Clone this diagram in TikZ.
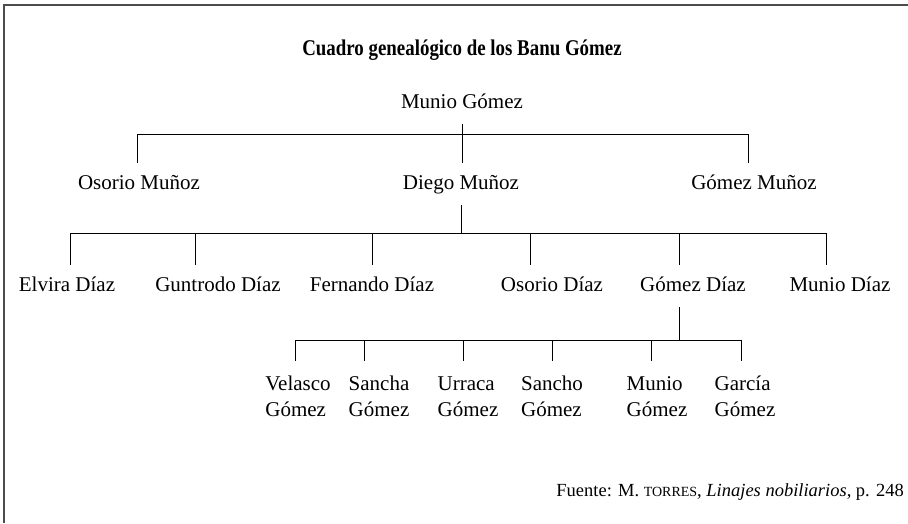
\documentclass[tikz,border=0pt]{standalone}
\usepackage{fontspec}
\setmainfont{Liberation Serif}
\newfontfamily\titlefont[FakeStretch=0.84]{Liberation Serif}
\usetikzlibrary{positioning}

\begin{document}
\begin{tikzpicture}[
        x=1pt, y=-1pt,
        kin/.style={line width=0.8pt},
        person/.style={anchor=base, inner sep=0pt, outer ysep=11pt,
          text height=15pt, text depth=5pt, font=\fontsize{21}{26}\selectfont},
        grandchild/.style={anchor=north, inner sep=0pt, outer ysep=11pt,
          align=left, font=\fontsize{21}{26}\selectfont},
        ]
        \useasboundingbox (0,0) rectangle (908,523);
        \draw[line width=1.6pt, black!70] (4,523) -- (4,5) -- (908,5);

        \node[anchor=base, font=\titlefont\bfseries\fontsize{22.5}{26}\selectfont] (title) at (462,55)
          {Cuadro genealógico de los Banu Gómez};

        % first and second generation
        \node[person] (munio)   at (462,108) {Munio Gómez};
        \node[person] (osorioM) at (139,189) {Osorio Muñoz};
        \node[person] (diego)   at (461,189) {Diego Muñoz};
        \node[person] (gomezM)  at (754,189) {Gómez Muñoz};

        \foreach \who/\x in {osorioM/137, diego/462, gomezM/748}
          \draw[kin] (\x,134) coordinate (\who-up) -- (\who-up |- \who.north);
        \draw[kin] (osorioM-up) -- (gomezM-up);
        \draw[kin] (munio.south) -- (diego-up);

        % children of Diego Munoz
        \node[person] (elvira)   at (67,291)  {Elvira Díaz};
        \node[person] (guntrodo) at (218,291) {Guntrodo Díaz};
        \node[person] (fernando) at (372,291) {Fernando Díaz};
        \node[person] (osorioD)  at (552,291) {Osorio Díaz};
        \node[person] (gomezD)   at (693,291) {Gómez Díaz};
        \node[person] (munioD)   at (840,291) {Munio Díaz};

        \foreach \who/\x in {elvira/70, guntrodo/195, fernando/372, osorioD/530, gomezD/679, munioD/826}
          \draw[kin] (\x,233) coordinate (\who-up) -- (\who-up |- \who.north);
        \draw[kin] (elvira-up) -- (munioD-up);
        \draw[kin] (diego.south) -- (diego.south |- elvira-up);

        % children of Gomez Diaz
        \node[grandchild] (velasco) at (298,361) {\strut Velasco\\Gómez};
        \node[grandchild] (sancha)  at (379,361) {\strut Sancha\\Gómez};
        \node[grandchild] (urraca)  at (468,361) {\strut Urraca\\Gómez};
        \node[grandchild] (sancho)  at (552,361) {\strut Sancho\\Gómez};
        \node[grandchild] (munioG)  at (657,361) {\strut Munio\\Gómez};
        \node[grandchild] (garcia)  at (745,361) {\strut García\\Gómez};

        \foreach \who/\x in {velasco/295, sancha/364, urraca/463, sancho/552, munioG/651, garcia/741}
          \draw[kin] (\x,340) coordinate (\who-up) -- (\who-up |- \who.north);
        \draw[kin] (velasco-up) -- (garcia-up);
        \draw[kin] (gomezD-up |- gomezD.south) -- (gomezD-up |- velasco-up);

        \node[anchor=base east, inner sep=0pt, font=\fontsize{18.5}{22}\selectfont] (source) at (904,496)
          {Fuente: M. {\fontsize{14}{16}\selectfont TORRES}, \textit{Linajes nobiliarios}, p. 248};
\end{tikzpicture}
\end{document}
